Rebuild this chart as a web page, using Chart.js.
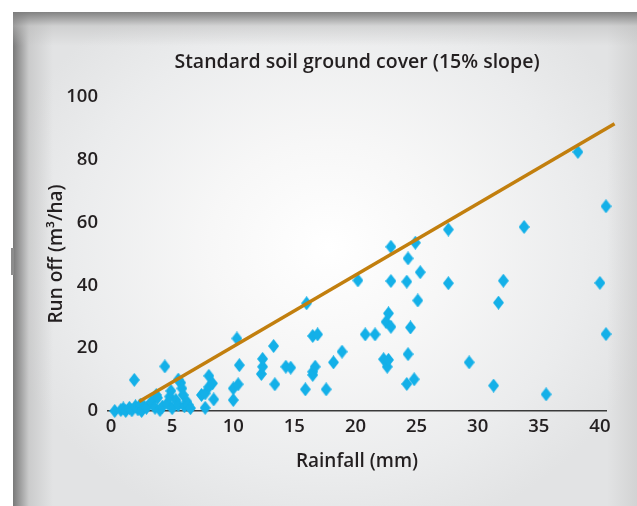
<!DOCTYPE html>
<html lang="en">

<head>
    <meta charset="UTF-8" />
    <title>Standard soil ground cover</title>
    <script src="https://cdn.jsdelivr.net/npm/chart.js"></script>
    <style>
        body {
            margin: 0;
            background-color: #ffffff;
            font-family: "Open Sans", sans-serif;
        }

        #wrap {
            position: relative;
            width: 637px;
            height: 506px;
            overflow: hidden;
        }

        #bg {
            position: absolute;
            left: 13px;
            top: 12px;
            right: 0;
            bottom: 0;
            background:
                linear-gradient(to bottom, rgba(125, 125, 125, 0.95) 0px, rgba(190, 190, 190, 0.5) 14px, rgba(230, 230, 230, 0) 34px),
                linear-gradient(to right, rgba(115, 115, 115, 0.95) 0px, rgba(180, 180, 180, 0.5) 16px, rgba(230, 230, 230, 0) 40px),
                linear-gradient(to left, rgba(200, 200, 200, 0.6) 0px, rgba(220, 220, 220, 0) 30px),
                radial-gradient(ellipse 340px 300px at 315px 235px, #ffffff 0%, #f7f7f7 35%, #ebeced 75%, #e2e3e4 100%);
        }

        #mark {
            position: absolute;
            left: 11px;
            top: 248px;
            width: 3px;
            height: 27px;
            background: #8c8c8c;
        }

        #runoff {
            position: absolute;
            left: 0;
            top: 0;
        }
    </style>
</head>

<body>
    <div id="wrap">
        <div id="bg"></div>
        <div id="mark"></div>
        <canvas id="runoff" width="637" height="506"></canvas>
    </div>

    <script>
        // rainfall (mm) vs run off (m3/ha)
        const rainfall = [
            0.3, 0.8, 1.0, 1.2, 1.5, 1.7, 2.0, 2.2, 2.4, 2.5, 2.7, 2.9, 1.9,
            3.3, 3.6, 3.7, 3.8, 4.0, 4.2, 4.4, 4.6, 4.8, 4.9, 5.0, 5.3, 5.5, 5.5, 5.7, 5.8, 5.9, 6.0, 6.2, 6.3, 6.5,
            7.4, 7.7, 7.7, 8.0, 8.0, 8.3, 8.4,
            10.0, 10.0, 10.4, 10.5, 10.3,
            12.3, 12.4, 12.4, 13.3, 13.4, 14.3, 14.7,
            15.9, 16.0, 16.5, 16.5, 16.7, 16.5, 16.9, 17.6, 18.2, 18.9,
            20.2, 20.8, 21.6, 22.3, 22.6, 22.7, 22.5, 22.7, 22.9, 22.9, 22.9,
            24.2, 24.8, 24.3, 24.5, 25.1, 24.2, 25.3, 24.3, 24.9,
            27.6, 27.6, 29.3, 31.3, 31.7, 32.1, 33.8, 35.6, 38.2, 40.0, 40.5, 40.5
        ];
        const runoff = [
            0.0, 0.3, 0.8, 0.0, 1.0, 0.2, 1.5, 0.5, 2.0, 0.0, 1.5, 1.0, 9.9,
            3.0, 1.0, 5.1, 4.2, 0.3, 1.4, 14.2, 2.5, 4.6, 6.4, 0.9, 3.5, 1.9, 10.0, 9.0, 7.2, 5.1, 1.5, 3.0, 2.0, 0.9,
            5.1, 1.0, 5.6, 7.7, 11.2, 8.8, 3.7,
            3.5, 7.2, 8.5, 14.6, 23.1,
            11.8, 14.1, 16.6, 20.7, 8.5, 14.1, 13.8,
            6.9, 34.3, 11.5, 12.5, 14.1, 23.9, 24.4, 6.9, 15.5, 18.9,
            41.6, 24.4, 24.4, 16.5, 14.1, 16.3, 28.4, 31.1, 26.8, 41.4, 52.3,
            8.6, 10.1, 18.1, 26.6, 35.2, 41.2, 44.2, 48.6, 53.6,
            40.7, 57.8, 15.5, 8.1, 34.5, 41.5, 58.6, 5.3, 82.5, 40.8, 65.2, 24.5
        ];

        // straight trend line drawn over the points
        const trendX = [2.3, 41.2];
        const trendY = [3.0, 91.5];

        const xTicks = [0, 5, 10, 15, 20, 25, 30, 35, 40];
        const yTicks = [0, 20, 40, 60, 80, 100];

        // diamond marker, a bit taller than wide like the original
        function makeDiamond(w, h, color) {
            const c = document.createElement('canvas');
            c.width = w;
            c.height = h;
            const g = c.getContext('2d');
            g.fillStyle = color;
            g.beginPath();
            g.moveTo(w / 2, 0);
            g.lineTo(w, h / 2);
            g.lineTo(w / 2, h);
            g.lineTo(0, h / 2);
            g.closePath();
            g.fill();
            return c;
        }

        const diamond = makeDiamond(11, 14, '#14b0e8');
        const textColor = '#231f20';
        const fontFamily = '"Open Sans"';

        const scatterPoints = rainfall.map((x, i) => ({ x: x, y: runoff[i] }));
        const trendPoints = trendX.map((x, i) => ({ x: x, y: trendY[i] }));

        new Chart(document.getElementById('runoff'), {
            type: 'scatter',
            data: {
                datasets: [{
                    label: 'Run off',
                    data: scatterPoints,
                    pointStyle: diamond,
                    pointRadius: 6,
                    clip: false,
                    order: 2
                }, {
                    label: 'Trend',
                    data: trendPoints,
                    showLine: true,
                    borderColor: '#c27f0e',
                    borderWidth: 3.5,
                    pointRadius: 0,
                    clip: false,
                    order: 1
                }]
            },
            options: {
                responsive: false,
                animation: false,
                layout: {
                    padding: { left: 40, right: 31, top: 51, bottom: 0 }
                },
                plugins: {
                    legend: { display: false },
                    tooltip: { enabled: false },
                    title: {
                        display: true,
                        text: 'Standard soil ground cover (15% slope)',
                        color: textColor,
                        fullSize: false,
                        font: { family: fontFamily, size: 19.5, weight: '600' },
                        padding: { top: 0, bottom: 22.6 }
                    }
                },
                scales: {
                    x: {
                        type: 'linear',
                        min: -0.25,
                        max: 40.5,
                        afterBuildTicks: (axis) => { axis.ticks = xTicks.map(v => ({ value: v })); },
                        afterFit: (axis) => { axis.height = 95; },
                        grid: { display: false, drawTicks: false },
                        border: { display: true, color: '#3a3a3a', width: 1.5 },
                        ticks: {
                            color: textColor,
                            padding: 5,
                            font: { family: fontFamily, size: 18.5, weight: '600' }
                        },
                        title: {
                            display: true,
                            text: 'Rainfall (mm)',
                            color: textColor,
                            font: { family: fontFamily, size: 19, weight: '600' },
                            padding: { top: 0, bottom: 33.5 }
                        }
                    },
                    y: {
                        min: 0,
                        max: 100,
                        afterBuildTicks: (axis) => { axis.ticks = yTicks.map(v => ({ value: v })); },
                        afterFit: (axis) => { axis.width = 68; },
                        grid: { display: false, drawTicks: false },
                        border: { display: false },
                        ticks: {
                            color: textColor,
                            padding: 10,
                            font: { family: fontFamily, size: 18.5, weight: '600' }
                        },
                        title: {
                            display: true,
                            text: 'Run off (m³/ha)',
                            color: textColor,
                            font: { family: fontFamily, size: 19, weight: '600' },
                            padding: { top: 5.5, bottom: 0 }
                        }
                    }
                }
            }
        });
    </script>
</body>

</html>
